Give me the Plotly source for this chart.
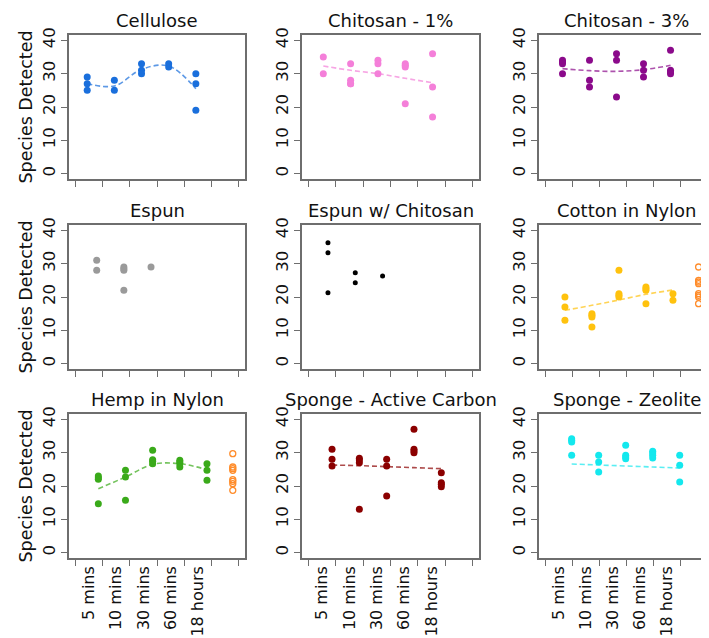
import plotly.graph_objects as go

# time point labels (bottom row only)
time_labels = ["5 mins", "10 mins", "30 mins", "60 mins", "18 hours"]

panel_titles = ["Cellulose", "Chitosan - 1%", "Chitosan - 3%",
                "Espun", "Espun w/ Chitosan", "Cotton in Nylon",
                "Hemp in Nylon", "Sponge - Active Carbon", "Sponge - Zeolite"]

# species detected per time point, per material
cellulose = [[29, 27, 25], [28, 25], [33, 31, 30], [33, 32], [30, 27, 19]]
chitosan_1 = [[35, 30], [33, 28, 27, 27], [34, 33, 30], [33, 32.5, 32, 21], [36, 26, 17]]
chitosan_3 = [[34, 33.5, 33, 30], [34, 28, 26], [36, 34, 23], [33, 31, 29], [37, 31, 30.5, 30]]
espun = [[31, 28], [29, 28.5, 28, 22], [29]]
espun_chitosan = [[36.3, 33.3, 21.3], [27.3, 24.3], [26.3]]
cotton_nylon = [[20, 17, 13], [15, 14.5, 14, 11], [28, 21, 20.5, 20], [23, 22.5, 22, 18], [21, 19]]
hemp_nylon = [[23, 22.5, 22, 14.7], [24.7, 22.7, 15.7], [30.7, 27.9, 27.4, 26.7],
              [27.7, 27.2, 26.7, 25.7], [26.7, 24.7, 21.7]]
sponge_carbon = [[31, 28, 26], [28.3, 27.8, 27, 13], [28, 26, 17], [37, 31, 30.5, 30],
                 [24, 21, 20.5, 19.8]]
sponge_zeolite = [[34.2, 33.7, 33.2, 29.2], [29.2, 27.2, 24.2], [32.2, 29.2, 28.7, 28.2],
                  [30.4, 29.9, 29.2, 28.4], [29.2, 26.2, 21.2]]

# extra (open circle) series
cotton_extra = [29, 25, 24.5, 24, 21, 20.5, 20, 18]
hemp_extra = [29.7, 25.7, 25.2, 24.7, 21.9, 21.4, 20.7, 18.7]

# dashed trend values at each time point
cellulose_trend = [27, 26.3, 31.3, 32.3, 25.5]
chitosan_1_trend = [32.3, 31, 30, 28.6, 27.3]
chitosan_3_trend = [31.5, 30.9, 30.7, 31.2, 32.5]
cotton_trend = [16, 17.5, 19.1, 20.8, 22.1]
hemp_trend = [19.2, 22.7, 26.5, 26.7, 24.9]
carbon_trend = [26.3, 26.1, 25.8, 25.5, 25.2]
zeolite_trend = [26.6, 26.3, 26.0, 25.7, 25.4]

series = [cellulose, chitosan_1, chitosan_3, espun, espun_chitosan,
          cotton_nylon, hemp_nylon, sponge_carbon, sponge_zeolite]
trends = [cellulose_trend, chitosan_1_trend, chitosan_3_trend, None, None,
          cotton_trend, hemp_trend, carbon_trend, zeolite_trend]
extras = [None, None, None, None, None, cotton_extra, hemp_extra, None, None]

colors = ["#1a6fdc", "#f47fd9", "#8b0a8b", "#9a9a9a", "#000000",
          "#ffc20e", "#3aaa1a", "#8b0000", "#14e8ee"]
extra_color = "#ff8c2a"
x_shift = [0.43, 0.54, 0.63, 0.78, 0.71, 0.72, 0.84, 0.86, 0.97]

W, H = 709, 638
col_px = [(61, 237), (294, 471), (531, 706)]
row_px = [(27, 171), (217, 361), (406, 550)]
font = "DejaVu Sans"
line_col = "#6e6e6e"

fig = go.Figure()
layout = {}
for i, title in enumerate(panel_titles):
    r, c = divmod(i, 3)
    n = i + 1
    xa = "x" if n == 1 else "x%d" % n
    ya = "y" if n == 1 else "y%d" % n
    xs, ys = [], []
    for k, grp in enumerate(series[i]):
        xs += [k + x_shift[i]] * len(grp)
        ys += grp
    size = 5 if i == 4 else 7
    fig.add_trace(go.Scatter(x=xs, y=ys, mode="markers", xaxis=xa, yaxis=ya,
                             marker=dict(color=colors[i], size=size), showlegend=False))
    if trends[i] is not None:
        tx = [k + x_shift[i] for k in range(len(trends[i]))]
        fig.add_trace(go.Scatter(x=tx, y=trends[i], mode="lines", xaxis=xa, yaxis=ya,
                                 line=dict(color=colors[i], width=1.6, dash="5px,3px", shape="spline"),
                                 opacity=0.7, showlegend=False))
    if extras[i] is not None:
        fig.add_trace(go.Scatter(x=[5 + x_shift[i] - 0.05] * len(extras[i]), y=extras[i],
                                 mode="markers", xaxis=xa, yaxis=ya,
                                 marker=dict(color=extra_color, size=6, symbol="circle-open",
                                             line=dict(width=1.3)),
                                 showlegend=False))

    x0, x1 = col_px[c]
    y0, y1 = row_px[r]
    xkey = "xaxis" if n == 1 else "xaxis%d" % n
    ykey = "yaxis" if n == 1 else "yaxis%d" % n
    layout[xkey] = dict(
        domain=[x0 / W, x1 / W], range=[-0.24, 6.24], anchor=ya,
        showgrid=False, zeroline=False, showline=True, mirror=True,
        linecolor=line_col, linewidth=1.5,
        tickmode="array", tickvals=[0.5, 1.5, 2.5, 3.5, 4.5], ticktext=time_labels,
        ticks="", showticklabels=(r == 2), tickangle=-90,
        tickfont=dict(family=font, size=16, color="#111"),
        minor=dict(tickmode="array", tickvals=[0, 1, 2, 3, 4, 5, 6], ticks="outside",
                   ticklen=6, tickcolor=line_col, tickwidth=1.3, showgrid=False),
    )
    layout[ykey] = dict(
        domain=[1 - y1 / H, 1 - y0 / H], range=[-1.6, 41.6], anchor=xa,
        showgrid=False, zeroline=False, showline=True, mirror=True,
        linecolor=line_col, linewidth=1.5,
        tickmode="array", tickvals=[0, 10, 20, 30, 40], ticks="outside",
        ticklen=6, tickcolor=line_col, tickwidth=1.3, tickangle=-90,
        tickfont=dict(family=font, size=16.5, color="#111"),
    )
    if c == 0:
        layout[ykey]["title"] = dict(text="Species Detected", standoff=3,
                                     font=dict(family=font, size=17.5, color="#111"))
    fig.add_annotation(text=title, xref="paper", yref="paper",
                       x=(x0 + x1) / 2 / W, y=1 - y0 / H, yanchor="bottom", xanchor="center",
                       yshift=2, showarrow=False,
                       font=dict(family=font, size=18, color="#111"))

fig.update_layout(width=W, height=H, margin=dict(l=0, r=0, t=0, b=0, autoexpand=False),
                  plot_bgcolor="white", paper_bgcolor="white", **layout)

fig.write_html("out.html")
